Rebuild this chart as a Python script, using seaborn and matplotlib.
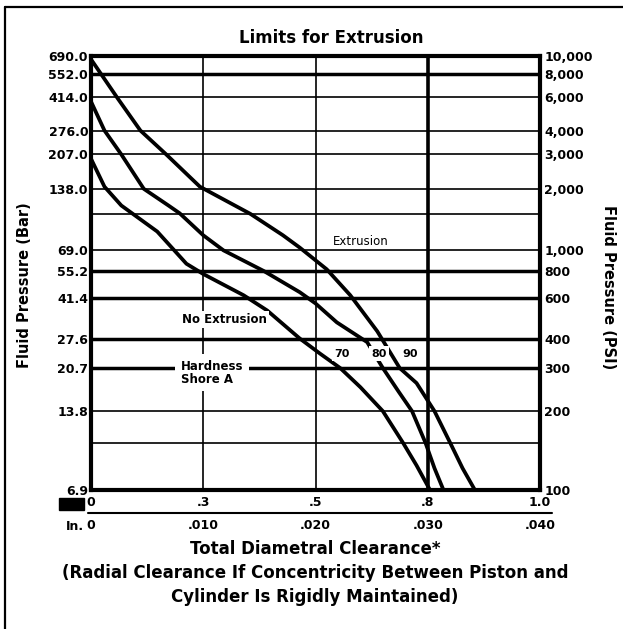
import numpy as np
import pandas as pd
import matplotlib
matplotlib.use('Agg')
import matplotlib.pyplot as plt
import seaborn as sns
from matplotlib.lines import Line2D

# curves: total diametral clearance (in.) vs fluid pressure (psi)
clear_90 = [0.0, 0.0024, 0.0044, 0.0067, 0.0097, 0.0142, 0.0171, 0.0186, 0.0210, 0.0231,
            0.0255, 0.0275, 0.0290, 0.0306, 0.0320, 0.0331, 0.0342]
psi_90 = [9600, 5900, 4000, 3000, 2050, 1500, 1180, 1030, 815, 620,
          430, 300, 260, 200, 150, 120, 100]

clear_80 = [0.0, 0.0012, 0.0027, 0.0047, 0.0069, 0.0079, 0.0100, 0.0118, 0.0154, 0.0186,
            0.0200, 0.0219, 0.0246, 0.0260, 0.0274, 0.0286, 0.0298, 0.0306, 0.0314]
psi_80 = [5700, 4000, 3000, 2000, 1650, 1510, 1180, 1000, 800, 640,
          570, 470, 386, 300, 240, 200, 150, 120, 100]

clear_70 = [0.0, 0.0012, 0.0027, 0.0059, 0.0085, 0.0100, 0.0136, 0.0157, 0.0186, 0.0204,
            0.0222, 0.0240, 0.0260, 0.0278, 0.0290, 0.0302]
psi_70 = [2850, 2050, 1650, 1230, 865, 775, 620, 530, 400, 345,
          300, 250, 200, 150, 123, 100]

psi_ticks = [100, 200, 300, 400, 600, 800, 1000, 2000, 3000, 4000, 6000, 8000, 10000]
bar_labels = ['6.9', '13.8', '20.7', '27.6', '41.4', '55.2', '69.0',
              '138.0', '207.0', '276.0', '414.0', '552.0', '690.0']
psi_labels = ['100', '200', '300', '400', '600', '800', '1,000',
              '2,000', '3,000', '4,000', '6,000', '8,000', '10,000']
heavy_grid = [300, 400, 600, 800, 8000]
light_grid = [150, 200, 1000, 1500, 2000, 3000, 4000, 6000]

clear_ticks = [0.0, 0.010, 0.020, 0.030, 0.040]
mm_labels = ['0', '.3', '.5', '.8', '1.0']
inch_labels = ['0', '.010', '.020', '.030', '.040']

df = pd.concat([
    pd.DataFrame({'clearance': clear_70, 'pressure': psi_70, 'hardness': '70'}),
    pd.DataFrame({'clearance': clear_80, 'pressure': psi_80, 'hardness': '80'}),
    pd.DataFrame({'clearance': clear_90, 'pressure': psi_90, 'hardness': '90'}),
])


# the printed pressure axis is log-like but stretched a little in the middle
def fwd(p):
    u = np.log10(np.clip(p, 1e-6, None) / 100.0) / 2
    w = np.clip(u, 0, 1) ** 0.85
    return u + 0.053 * np.sin(np.pi * w)


_u = np.linspace(-6, 6, 6001)
_f = fwd(100 * 100 ** _u)


def inv(v):
    return 100 * 100 ** np.interp(v, _f, _u)


sns.set_theme(style='white')
plt.rcParams['font.family'] = ['DejaVu Sans']
plt.rcParams['text.color'] = 'black'
plt.rcParams['xtick.color'] = 'black'
plt.rcParams['ytick.color'] = 'black'
plt.rcParams['axes.labelcolor'] = 'black'

W, H = 623, 629
fig = plt.figure(figsize=(W / 100, H / 100), dpi=100)
ax = fig.add_axes([91 / W, 1 - 490 / H, (540 - 91) / W, (490 - 56) / H])

sns.lineplot(data=df, x='clearance', y='pressure', hue='hardness', units='hardness',
             estimator=None, palette=['black'] * 3, legend=False, lw=2.7,
             solid_joinstyle='round', ax=ax, zorder=3)

ax.set_yscale('function', functions=(fwd, inv))
ax.set_xlim(0, 0.040)
ax.set_ylim(100, 10000)

for p in heavy_grid:
    ax.axhline(p, color='black', lw=2.5, zorder=1)
for p in light_grid:
    ax.axhline(p, color='black', lw=1.2, zorder=1)
ax.axvline(0.010, color='black', lw=1.2, zorder=1)
ax.axvline(0.020, color='black', lw=1.2, zorder=1)
ax.axvline(0.030, color='black', lw=2.6, zorder=1)

for s in ax.spines.values():
    s.set_linewidth(3)
    s.set_color('black')

ax.set_yticks(psi_ticks, labels=bar_labels)
ax.set_xticks(clear_ticks, labels=mm_labels)
ax.minorticks_off()
ax.tick_params(axis='y', length=0, pad=2, labelsize=9)
ax.tick_params(axis='x', length=0, pad=4, labelsize=9)
ax.set_xlabel('')
ax.set_ylabel('')

ax2 = ax.twinx()
ax2.set_yscale('function', functions=(fwd, inv))
ax2.set_ylim(100, 10000)
ax2.set_yticks(psi_ticks, labels=psi_labels)
ax2.minorticks_off()
ax2.tick_params(axis='y', length=0, pad=3, labelsize=9)
for s in ax2.spines.values():
    s.set_visible(False)

sec = ax.secondary_xaxis(-0.053)
sec.set_xticks(clear_ticks, labels=inch_labels)
sec.tick_params(length=0, pad=4, labelsize=9)
sec.spines['bottom'].set_visible(False)

for lab in ax.get_xticklabels() + ax.get_yticklabels() + ax2.get_yticklabels() + sec.get_xticklabels():
    lab.set_fontweight('bold')

# annotations inside the plot
box = dict(facecolor='white', edgecolor='none', pad=1.5)
ax.text(0.0240, 1100, 'Extrusion', fontsize=8.5, ha='center', va='center', zorder=4)
ax.text(0.0119, 485, 'No Extrusion', fontsize=8.5, fontweight='bold', ha='center', va='center',
        bbox=box, zorder=4)
ax.text(0.0080, 287, 'Hardness\nShore A', fontsize=8.5, fontweight='bold', ha='left', va='center',
        linespacing=1.0, bbox=dict(facecolor='white', edgecolor='none', pad=4), zorder=4)
for xx, lab in zip([0.02236, 0.02566, 0.02842], ['70', '80', '90']):
    ax.text(xx, 345, lab, fontsize=8, fontweight='bold', ha='center', va='center', bbox=box, zorder=4)

# figure texts
fig.text(331 / W, 1 - 38 / H, 'Limits for Extrusion', fontsize=12, fontweight='bold',
         ha='center', va='center')
fig.text(25 / W, 1 - 285 / H, 'Fluid Pressure (Bar)', fontsize=10.5, fontweight='bold',
         rotation=90, ha='center', va='center')
fig.text(608 / W, 1 - 287 / H, 'Fluid Pressure (PSI)', fontsize=10.5, fontweight='bold',
         rotation=270, ha='center', va='center')
fig.text(83 / W, 1 - 504 / H, 'mm', fontsize=8, fontweight='heavy', ha='right', va='center',
         bbox=dict(facecolor='black', edgecolor='black', pad=0.8))
fig.text(84 / W, 1 - 526 / H, 'In.', fontsize=9, fontweight='bold', ha='right', va='center')
fig.text(315 / W, 1 - 573 / H,
         'Total Diametral Clearance*\n(Radial Clearance If Concentricity Between Piston and\n'
         'Cylinder Is Rigidly Maintained)',
         fontsize=12, fontweight='bold', ha='center', va='center', linespacing=1.4)

fig.add_artist(Line2D([88 / W, 552 / W], [1 - 513 / H, 1 - 513 / H], color='black', lw=1.5))
fig.add_artist(Line2D([5 / W, 5 / W], [0, 1 - 7 / H], color='black', lw=1.6))
fig.add_artist(Line2D([5 / W, 1], [1 - 7 / H, 1 - 7 / H], color='black', lw=1.6))

fig.savefig('out.png', dpi=100, facecolor='white')
